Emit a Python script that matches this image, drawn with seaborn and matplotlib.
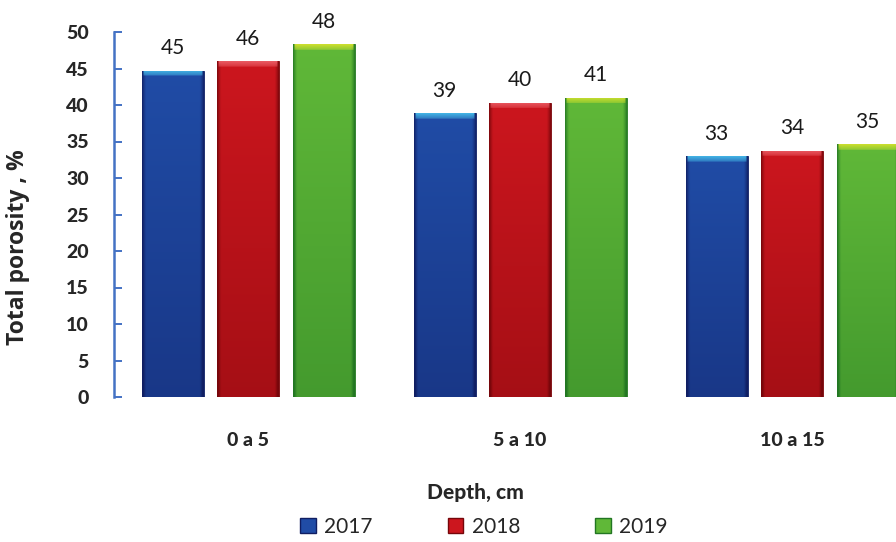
import numpy as np
import pandas as pd
import matplotlib
matplotlib.use("Agg")
import matplotlib.pyplot as plt
from matplotlib.patches import Patch
import seaborn as sns

# Total porosity by soil depth and year
depths = ["0 a 5", "5 a 10", "10 a 15"]
years = ["2017", "2018", "2019"]
porosity_2017 = [44.7, 38.9, 33.0]
porosity_2018 = [46.0, 40.3, 33.7]
porosity_2019 = [48.3, 41.0, 34.6]

df = pd.DataFrame({
    "depth": depths * 3,
    "year": [y for y in years for _ in depths],
    "porosity": porosity_2017 + porosity_2018 + porosity_2019,
})

# base, shadow and top-highlight colours for each year
base_cols = {"2017": (32, 76, 166), "2018": (204, 22, 30), "2019": (96, 184, 56)}
dark_cols = {"2017": (16, 30, 98), "2018": (118, 6, 10), "2019": (34, 118, 34)}
top_cols = {"2017": (70, 190, 235), "2018": (236, 96, 104), "2019": (214, 226, 44)}


def rgb(c):
    return np.array(c, dtype=float) / 255.0


sns.set_theme(style="white")
plt.rcParams["font.family"] = ["Lato", "DejaVu Sans"]

fig = plt.figure(figsize=(8.96, 5.42), dpi=100)
ax = fig.add_axes([114 / 896, 145 / 542, 1 - 114 / 896, 365 / 542])

palette = {y: rgb(base_cols[y]) for y in years}
sns.barplot(data=df, x="depth", y="porosity", hue="year", order=depths,
            hue_order=years, palette=palette, width=0.833, gap=0.18,
            ax=ax, legend=False, saturation=1)

ax.set_ylim(0, 50)
ax.set_xlim(-0.493, 2.382)

# shade every bar: darker sides and bottom, bright bevel on top
for cont, yr in zip(ax.containers, years):
    base, dark, top = rgb(base_cols[yr]), rgb(dark_cols[yr]), rgb(top_cols[yr])
    for bar in cont:
        x0, w = bar.get_x(), bar.get_width()
        h = bar.get_height()
        ny, nx = 300, 80
        u = np.linspace(0, 1, nx)
        side = np.clip(1 - np.minimum(u, 1 - u) / 0.07, 0, 1) ** 1.5
        v = np.linspace(0, 1, ny)[:, None]  # 0 = top, 1 = bottom
        vert = 0.45 * v
        mix = np.clip(side[None, :] * 0.85 + vert, 0, 1)
        img = base[None, None, :] * (1 - mix[..., None]) + dark[None, None, :] * mix[..., None]
        bevel = 0.7 / h
        vv = np.linspace(0, 1, ny)
        bmask = (vv < bevel)[:, None] & (side[None, :] < 0.6)
        bstrength = np.where(vv < bevel, 0.9 - vv / bevel * 0.5, 0)[:, None]
        bm = (bmask * bstrength)[..., None]
        img = img * (1 - bm) + top[None, None, :] * bm
        im = ax.imshow(img, extent=(x0, x0 + w, 0, h), origin="upper",
                       aspect="auto", zorder=bar.get_zorder() + 0.1,
                       interpolation="bilinear")
        im.set_clip_path(bar)
        bar.set_edgecolor((*dark, 1))
        bar.set_linewidth(0.6)
    vals = [b.get_height() for b in cont]
    ax.bar_label(cont, labels=[f"{v:.0f}" for v in vals], padding=9,
                 fontsize=15, color="#1a1a1a")

ax.set_xlim(-0.493, 2.382)
ax.set_ylim(0, 50)

for s in ["top", "right", "bottom"]:
    ax.spines[s].set_visible(False)
ax.spines["left"].set_color("#4472C4")
ax.spines["left"].set_linewidth(1.8)
ax.set_yticks(np.arange(0, 51, 5))
ax.tick_params(axis="y", left=True, direction="in", length=6, width=1.4,
               color="#4472C4", pad=18, labelsize=14)
for t in ax.get_yticklabels():
    t.set_fontweight("black")
ax.tick_params(axis="x", bottom=False, length=0, pad=25, labelsize=14)
for t in ax.get_xticklabels():
    t.set_fontweight("black")

ax.set_ylabel("Total porosity , %", fontsize=16.5, fontweight="bold",
              family=["Open Sans", "DejaVu Sans"])
ax.yaxis.set_label_coords(-0.108, 0.41)
ax.set_xlabel("Depth, cm", fontsize=15, fontweight="black")
ax.xaxis.set_label_coords(0.4616, -0.235)

handles = [Patch(facecolor=rgb(base_cols[y]), edgecolor=rgb(dark_cols[y]), label=y)
           for y in years]
fig.legend(handles=handles, loc="center", bbox_to_anchor=(484 / 896, 1 - 527 / 542),
           ncol=3, frameon=False, fontsize=15, handlelength=0.75, handleheight=0.75,
           handletextpad=0.4, columnspacing=3.6)

fig.savefig("out.png", dpi=100, facecolor="white")
